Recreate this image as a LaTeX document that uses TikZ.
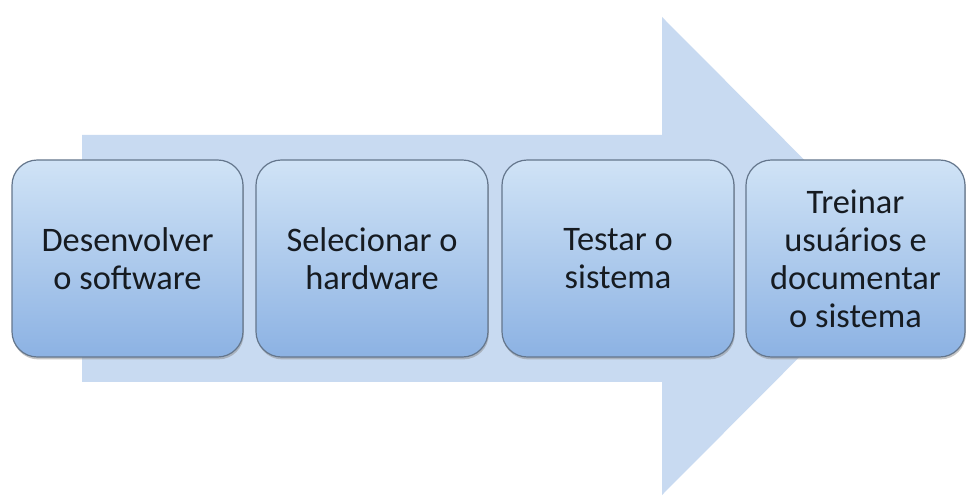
\documentclass[tikz,border=0pt]{standalone}
\usepackage{fontspec}
\setmainfont{Carlito}
\usetikzlibrary{shadows}
\definecolor{arrowblue}{RGB}{200,218,241}
\definecolor{boxtop}{RGB}{208,227,246}
\definecolor{boxbot}{RGB}{140,178,227}
\definecolor{boxedge}{RGB}{100,118,140}
\definecolor{txt}{RGB}{22,27,33}
\tikzset{
  stepbox/.style={rectangle, rounded corners=19pt, draw=boxedge, line width=0.9pt,
    top color=boxtop, bottom color=boxbot, minimum height=147.75pt,
    inner sep=0pt, align=center, text=txt,
    font=\fontsize{25.8pt}{28.5pt}\selectfont,
    drop shadow={shadow xshift=0.6pt, shadow yshift=-1.8pt, fill=black!45, opacity=0.5}},
}
\begin{document}
\begin{tikzpicture}[x=0.75pt,y=-0.75pt]
\useasboundingbox (0,0) rectangle (967,498);
\fill[white] (0,0) rectangle (967,498);
\fill[arrowblue] (82,135) -- (662,135) -- (662,17) -- (900,256) -- (662,495) -- (662,382) -- (82,382) -- cycle;
\node[stepbox, minimum width=173.25pt] (b1) at (127.5,258.5) {Desenvolver\\o software};
\node[stepbox, minimum width=174pt] (b2) at (372,258.5) {Selecionar o\\hardware};
\node[stepbox, minimum width=174pt] (b3) at (618,258.5) {Testar o\\sistema};
\node[stepbox, minimum width=164.25pt] (b4) at (855.5,258.5) {Treinar\\usuários e\\documentar\\o sistema};
\end{tikzpicture}
\end{document}
